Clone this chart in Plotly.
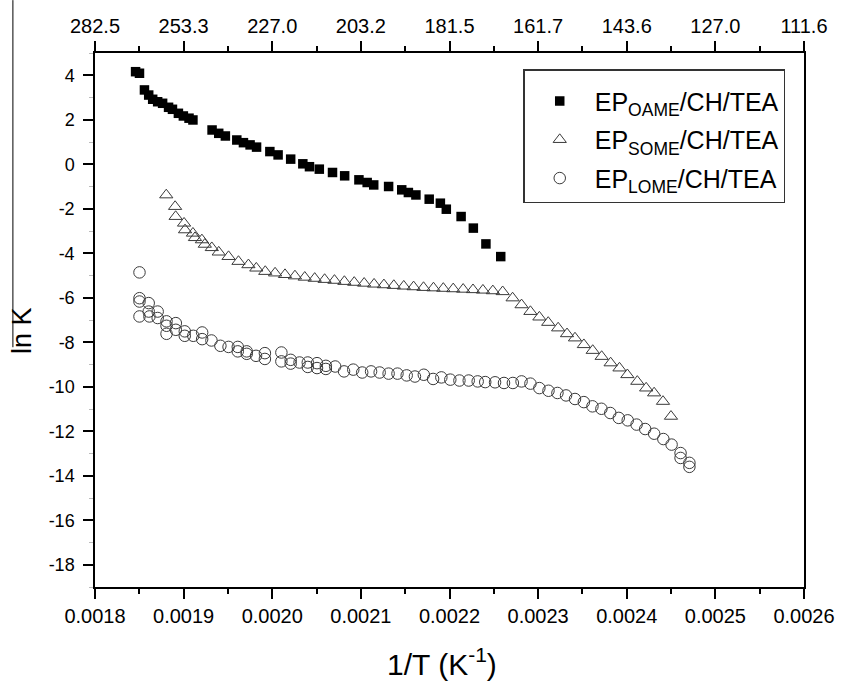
import plotly.graph_objects as go

# ---- data: ln K versus reciprocal temperature ----
# EP_OAME/CH/TEA
oame_x = [0.0018458, 0.0018502, 0.0018558, 0.0018606, 0.0018651, 0.0018707, 0.0018763,
          0.0018830, 0.0018874, 0.0018941, 0.0018997, 0.0019061, 0.0019105, 0.0019321,
          0.0019396, 0.0019471, 0.0019600, 0.0019675, 0.0019750, 0.0019823, 0.0019973,
          0.0020066, 0.0020208, 0.0020345, 0.0020420, 0.0020531, 0.0020680, 0.0020817,
          0.0020978, 0.0021071, 0.0021145, 0.0021313, 0.0021461, 0.0021536, 0.0021621,
          0.0021771, 0.0021897, 0.0021964, 0.0022131, 0.0022269, 0.0022411, 0.0022578]
oame_lnk = [4.16, 4.09, 3.34, 3.11, 2.92, 2.81, 2.74,
            2.56, 2.47, 2.29, 2.17, 2.07, 1.99, 1.54,
            1.39, 1.27, 1.09, 0.97, 0.87, 0.77, 0.57,
            0.42, 0.23, 0.02, -0.11, -0.22, -0.37, -0.52,
            -0.70, -0.82, -0.93, -1.00, -1.15, -1.27, -1.38,
            -1.57, -1.75, -2.02, -2.35, -2.87, -3.58, -4.15]

# EP_SOME/CH/TEA
some_x = [0.0018804, 0.0018904, 0.0018910, 0.0019005, 0.0019016, 0.0019105, 0.0019128,
          0.0019206, 0.0019239, 0.0019318, 0.0019396, 0.0019507, 0.0019619, 0.0019731,
          0.0019820, 0.0019921, 0.0020032, 0.0020144, 0.0020256, 0.0020367, 0.0020479,
          0.0020591, 0.0020702, 0.0020814, 0.0020925, 0.0021037, 0.0021149, 0.0021260,
          0.0021372, 0.0021484, 0.0021595, 0.0021707, 0.0021819, 0.0021930, 0.0022042,
          0.0022154, 0.0022265, 0.0022377, 0.0022489, 0.0022600, 0.0022712, 0.0022813,
          0.0022913, 0.0023014, 0.0023114, 0.0023226, 0.0023326, 0.0023416, 0.0023516,
          0.0023616, 0.0023717, 0.0023818, 0.0023918, 0.0024007, 0.0024119, 0.0024219,
          0.0024309, 0.0024409, 0.0024499]
some_lnk = [-1.38, -1.90, -2.35, -2.65, -2.95, -3.10, -3.30,
            -3.40, -3.60, -3.75, -3.95, -4.15, -4.37, -4.52,
            -4.67, -4.82, -4.89, -4.96, -5.02, -5.08, -5.13,
            -5.18, -5.22, -5.27, -5.31, -5.35, -5.39, -5.42,
            -5.45, -5.48, -5.51, -5.54, -5.56, -5.58, -5.60,
            -5.62, -5.64, -5.66, -5.69, -5.73, -6.01, -6.32,
            -6.62, -6.87, -7.11, -7.36, -7.62, -7.81, -8.11,
            -8.37, -8.64, -8.93, -9.16, -9.46, -9.76, -10.06,
            -10.28, -10.66, -11.33]

# EP_LOME/CH/TEA
lome_x = [0.0018502, 0.0018502, 0.0018502, 0.0018502, 0.0018606, 0.0018606, 0.0018614,
          0.0018707, 0.0018707, 0.0018807, 0.0018807, 0.0018807, 0.0018912, 0.0018912,
          0.0019013, 0.0019013, 0.0019109, 0.0019209, 0.0019209, 0.0019314, 0.0019415,
          0.0019507, 0.0019611, 0.0019611, 0.0019712, 0.0019712, 0.0019817, 0.0019917,
          0.0019917, 0.0020103, 0.0020103, 0.0020208, 0.0020208, 0.0020308, 0.0020401,
          0.0020401, 0.0020505, 0.0020505, 0.0020605, 0.0020605, 0.0020710, 0.0020810,
          0.0020914, 0.0021015, 0.0021115, 0.0021212, 0.0021313, 0.0021413, 0.0021517,
          0.0021610, 0.0021710, 0.0021815, 0.0021908, 0.0022009, 0.0022112, 0.0022217,
          0.0022318, 0.0022403, 0.0022514, 0.0022615, 0.0022715, 0.0022813, 0.0022913,
          0.0023014, 0.0023117, 0.0023218, 0.0023315, 0.0023416, 0.0023516, 0.0023613,
          0.0023714, 0.0023814, 0.0023910, 0.0024011, 0.0024111, 0.0024208, 0.0024309,
          0.0024413, 0.0024506, 0.0024607, 0.0024607, 0.0024707, 0.0024707]
lome_lnk = [-4.86, -6.02, -6.17, -6.84, -6.24, -6.62, -6.84,
            -6.62, -6.91, -7.06, -7.26, -7.62, -7.14, -7.44,
            -7.51, -7.71, -7.71, -7.56, -7.86, -7.92, -8.16,
            -8.21, -8.21, -8.41, -8.41, -8.52, -8.61, -8.49,
            -8.75, -8.46, -8.86, -8.79, -8.96, -8.91, -8.91,
            -9.11, -8.94, -9.16, -9.06, -9.20, -9.09, -9.31,
            -9.23, -9.36, -9.31, -9.36, -9.41, -9.41, -9.49,
            -9.54, -9.46, -9.65, -9.58, -9.68, -9.72, -9.72,
            -9.76, -9.79, -9.80, -9.83, -9.83, -9.76, -9.86,
            -10.06, -10.18, -10.28, -10.39, -10.55, -10.69, -10.88,
            -10.99, -11.18, -11.40, -11.51, -11.70, -11.90, -12.11,
            -12.35, -12.60, -12.98, -13.20, -13.42, -13.60]

# axis ticks: 1/T on the bottom, temperature (deg C) on the top
inv_t_ticks = [0.0018, 0.0019, 0.0020, 0.0021, 0.0022, 0.0023, 0.0024, 0.0025, 0.0026]
inv_t_labels = ["0.0018", "0.0019", "0.0020", "0.0021", "0.0022", "0.0023", "0.0024", "0.0025", "0.0026"]
temp_labels = ["282.5", "253.3", "227.0", "203.2", "181.5", "161.7", "143.6", "127.0", "111.6"]
lnk_ticks = [4, 2, 0, -2, -4, -6, -8, -10, -12, -14, -16, -18]
lnk_labels = ["4", "2", "0", "-2", "-4", "-6", "-8", "-10", "-12", "-14", "-16", "-18"]

series_names = ["EP<sub>OAME</sub>/CH/TEA", "EP<sub>SOME</sub>/CH/TEA", "EP<sub>LOME</sub>/CH/TEA"]
x_title = "1/T (K<sup>-1</sup>)"
y_title = "ln K"

FONT = "Liberation Sans, Arial, sans-serif"
X_RANGE = [0.0018, 0.0026]
Y_RANGE = [-19, 5]

fig = go.Figure()

fig.add_trace(go.Scatter(
    x=oame_x, y=oame_lnk, mode="markers", name=series_names[0], legendgroup="oame",
    marker=dict(symbol="square", size=9.5, color="black", line=dict(width=0)),
))
fig.add_trace(go.Scatter(
    x=some_x, y=some_lnk, mode="markers", name=series_names[1], legendgroup="some",
    marker=dict(symbol="triangle-up-open", size=11.5, color="#3a3a3a", line=dict(width=1)),
))
fig.add_trace(go.Scatter(
    x=lome_x, y=lome_lnk, mode="markers", name=series_names[2], legendgroup="lome",
    marker=dict(symbol="circle-open", size=11.5, color="#3a3a3a", line=dict(width=1)),
))
# the temperature scale on top shares the same 1/T data
fig.add_trace(go.Scatter(
    x=oame_x, y=oame_lnk, xaxis="x2", mode="markers", showlegend=False,
    hoverinfo="skip", marker=dict(opacity=0),
))

axis_common = dict(
    showgrid=False, zeroline=False, showline=True, linecolor="black", linewidth=1.5,
    ticks="outside", tickcolor="black", tickwidth=1.5,
)
x_tickfont = dict(family=FONT, size=20, color="black")
minor_x = dict(ticks="outside", ticklen=5, tickwidth=1.5, tickcolor="black",
               tick0=0.0018, dtick=0.00005)

fig.update_layout(
    width=847, height=683,
    margin=dict(l=95, r=36, t=53, b=96),
    paper_bgcolor="white", plot_bgcolor="white",
    showlegend=True,
    legend=dict(
        x=0.604, y=0.97, xanchor="left", yanchor="top",
        bgcolor="white", bordercolor="#333333", borderwidth=1.5,
        font=dict(family=FONT, size=25, color="black"),
        title=dict(text=" ", font=dict(size=6)),
        itemwidth=60, tracegroupgap=3,
    ),
    xaxis=dict(
        range=X_RANGE, tickmode="array", tickvals=inv_t_ticks, ticktext=inv_t_labels,
        ticklen=10, minor=minor_x, tickfont=x_tickfont,
        **axis_common,
    ),
    xaxis2=dict(
        range=X_RANGE, overlaying="x", side="top", anchor="y",
        tickmode="array", tickvals=inv_t_ticks, ticktext=temp_labels,
        ticklen=10, minor=minor_x, tickfont=x_tickfont,
        **axis_common,
    ),
    yaxis=dict(
        range=Y_RANGE, tickmode="array", tickvals=lnk_ticks, ticktext=lnk_labels,
        ticklen=10, ticklabelstandoff=5, mirror=True,
        tickfont=dict(family=FONT, size=18, color="black"),
        minor=dict(ticks="outside", ticklen=4, tickwidth=1, tickcolor="#bbbbbb",
                   tick0=-19, dtick=1),
        **axis_common,
    ),
)

# axis titles
fig.add_annotation(text=x_title, xref="paper", yref="paper", x=0.49, y=-0.1404,
                   xanchor="center", yanchor="middle", showarrow=False,
                   font=dict(family=FONT, size=30, color="black"))
fig.add_annotation(text=y_title, xref="paper", yref="paper", x=-0.1033, y=0.481,
                   xanchor="center", yanchor="middle", textangle=-90, showarrow=False,
                   font=dict(family=FONT, size=27, color="black"))

# thin vertical rule at the far left edge of the figure
fig.add_shape(type="line", xref="paper", yref="paper",
              x0=-0.1158, x1=-0.1158, y0=1.099, y1=0.449,
              line=dict(color="black", width=1))

fig.write_html("out.html")
